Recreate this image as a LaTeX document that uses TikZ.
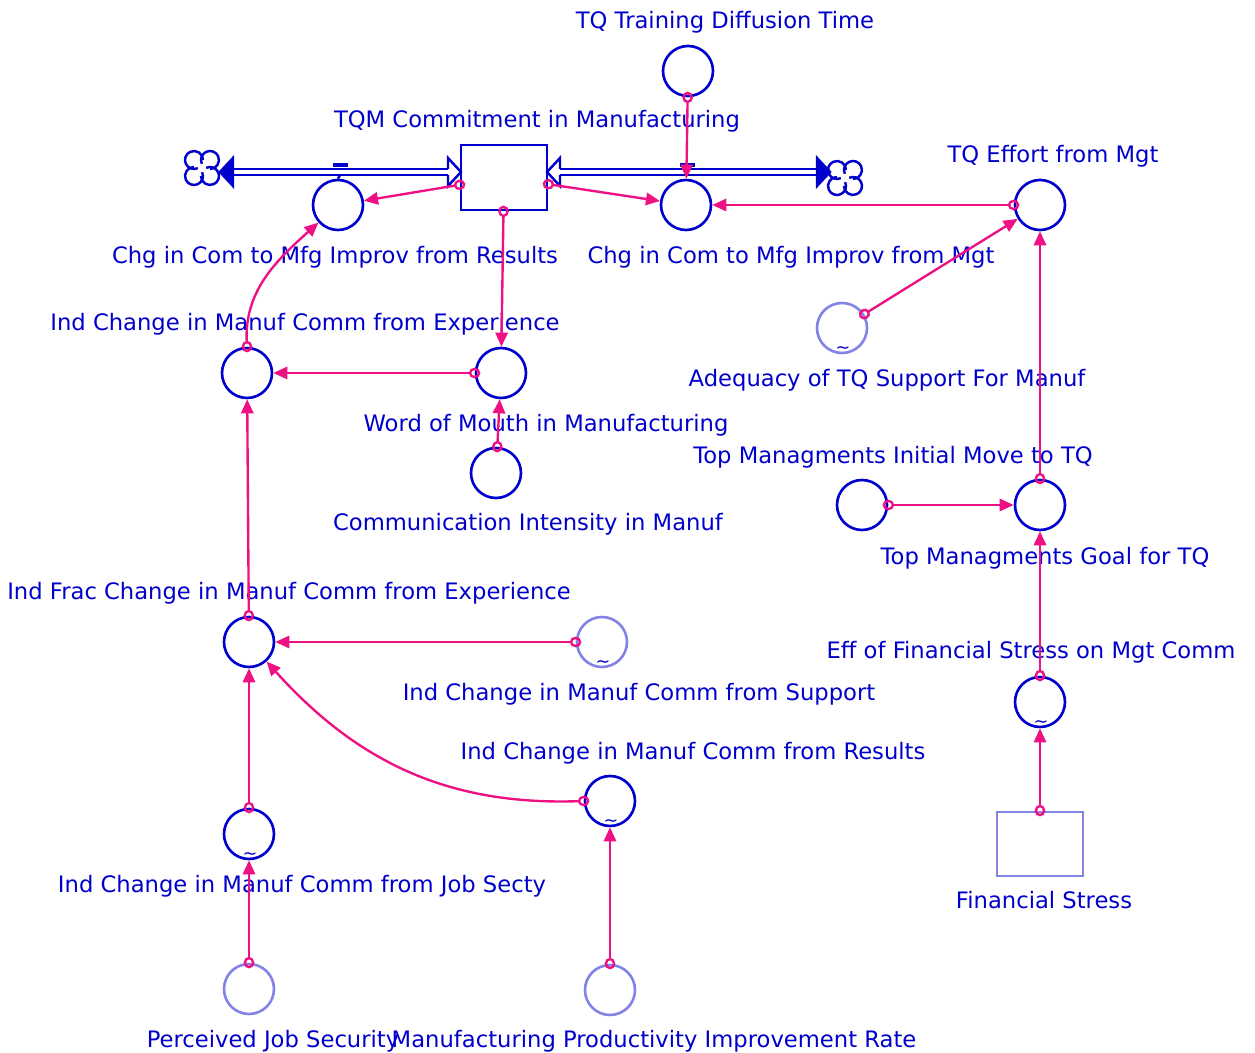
\documentclass[tikz,border=0pt]{standalone}
\usepackage{fontspec}
\setmainfont{DejaVu Sans}
\usetikzlibrary{arrows.meta}
\definecolor{VBlue}{HTML}{0000CC}
\definecolor{VLight}{HTML}{8484E6}
\definecolor{VPink}{HTML}{EE1184}

\begin{document}
\begin{tikzpicture}[x=0.02cm,y=0.02cm,
  var/.style={circle,draw=VBlue,line width=1.5pt,minimum size=1cm,inner sep=0pt},
  const/.style={var,draw=VLight},
  stockbox/.style={rectangle,draw=VBlue,line width=1.5pt,minimum width=1.72cm,minimum height=1.3cm,inner sep=0pt},
  lbl/.style={text=VBlue,font=\fontsize{12.9}{15}\selectfont,inner sep=0pt},
  tilde/.style={text=VBlue,font=\normalsize,inner sep=0pt},
  link/.style={VPink,line width=1.35pt,{Circle[open,length=6.5pt,width=6pt]}-{Triangle[length=8pt,width=7pt]},shorten <=-3.2pt},
  pipe/.style={VBlue,line width=1.4pt,line join=miter},
  sink/.pic={\foreach \a in {0,90,180,270}
      \draw[pipe,rotate=\a] (8,8) ++(205:9) arc[start angle=205,end angle=-90,radius=9];}]
  \useasboundingbox (0,0) rectangle (1255,-1053);

  % stock and flows
  \node[stockbox] (tqm) at (504,-177.5) {};
  \pic at (202,-168) {sink};
  \pic at (845,-178) {sink};
  \draw[pipe] (233,-169) -- (448,-169) (233,-175) -- (448,-175);
  \filldraw[pipe,fill=VBlue] (233,-158) -- (220,-172) -- (233,-186) -- cycle;
  \draw[pipe] (448,-169) -- (448,-158) -- (461,-172) -- (448,-186) -- (448,-175);
  \draw[pipe] (560,-169) -- (817,-169) (560,-175) -- (817,-175);
  \draw[pipe] (560,-169) -- (560,-158) -- (547,-172) -- (560,-186) -- (560,-175);
  \filldraw[pipe,fill=VBlue] (817,-158) -- (830,-172) -- (817,-186) -- cycle;

  % variables
  \node[var] (train) at (688,-71) {};
  \node[var] (chgres) at (338,-205) {};
  \node[var] (chgmgt) at (686,-205) {};
  \node[var] (effort) at (1040,-205) {};
  \node[const] (adeq) at (842,-328) {};
  \node[var] (iexp) at (247,-373) {};
  \node[var] (wom) at (501,-373) {};
  \node[var] (comm) at (496,-473) {};
  \node[var] (init) at (862,-505) {};
  \node[var] (goal) at (1040,-505) {};
  \node[var] (ifrac) at (249,-642) {};
  \node[const] (isup) at (602,-642) {};
  \node[var] (effin) at (1040,-702) {};
  \node[var] (ires) at (610,-801) {};
  \node[stockbox,draw=VLight,minimum height=1.28cm] (fin) at (1040,-844) {};
  \node[var] (ijob) at (249,-834) {};
  \node[const] (pjs) at (249,-989) {};
  \node[const] (mpir) at (610,-990) {};

  % valves
  \draw[pipe,line width=2pt] (333,-165) -- (348,-165);
  \draw[pipe] (340,-175) -- (chgres.north);
  \draw[pipe,line width=2pt] (680,-165) -- (695,-165);

  % lookup marks
  \node[tilde] (adeq-t) at (843,-350) {\textasciitilde};
  \node[tilde] (isup-t) at (603,-664) {\textasciitilde};
  \node[tilde] (effin-t) at (1041,-724) {\textasciitilde};
  \node[tilde] (ires-t) at (611,-823) {\textasciitilde};
  \node[tilde] (ijob-t) at (250,-856) {\textasciitilde};

  % labels
  \node[lbl] (l-train) at (725,-22) {TQ Training Diffusion Time};
  \node[lbl] (l-tqm) at (537,-121) {TQM Commitment in Manufacturing};
  \node[lbl] (l-effort) at (1053,-156) {TQ Effort from Mgt};
  \node[lbl] (l-chgres) at (335,-257) {Chg in Com to Mfg Improv from Results};
  \node[lbl] (l-chgmgt) at (791,-257) {Chg in Com to Mfg Improv from Mgt};
  \node[lbl] (l-iexp) at (305,-324) {Ind Change in Manuf Comm from Experience};
  \node[lbl] (l-adeq) at (887,-380) {Adequacy of TQ Support For Manuf};
  \node[lbl] (l-wom) at (546,-425) {Word of Mouth in Manufacturing};
  \node[lbl] (l-init) at (893,-457) {Top Managments Initial Move to TQ};
  \node[lbl] (l-comm) at (528,-524) {Communication Intensity in Manuf};
  \node[lbl] (l-goal) at (1045,-558) {Top Managments Goal for TQ};
  \node[lbl] (l-ifrac) at (289,-593) {Ind Frac Change in Manuf Comm from Experience};
  \node[lbl] (l-effin) at (1031,-652) {Eff of Financial Stress on Mgt Comm};
  \node[lbl] (l-isup) at (639,-694) {Ind Change in Manuf Comm from Support};
  \node[lbl] (l-ires) at (693,-753) {Ind Change in Manuf Comm from Results};
  \node[lbl] (l-ijob) at (302,-886) {Ind Change in Manuf Comm from Job Secty};
  \node[lbl] (l-fin) at (1044,-900) {Financial Stress};
  \node[lbl] (l-pjs) at (273,-1041) {Perceived Job Security};
  \node[lbl] (l-mpir) at (654,-1041) {Manufacturing Productivity Improvement Rate};

  % causal links
  \draw[link] (tqm) -- (chgres);
  \draw[link] (tqm) -- (chgmgt);
  \draw[link] (tqm) -- (wom);
  \draw[link] (train) -- (chgmgt);
  \draw[link] (effort) -- (chgmgt);
  \draw[link] (adeq) -- (effort);
  \draw[link] (goal) -- (effort);
  \draw[link] (init) -- (goal);
  \draw[link] (effin) -- (goal);
  \draw[link] (fin) -- (effin);
  \draw[link] (iexp.north) to[out=93,in=222] (chgres);
  \draw[link] (wom) -- (iexp);
  \draw[link] (comm) -- (wom);
  \draw[link] (ifrac) -- (iexp);
  \draw[link] (isup) -- (ifrac);
  \draw[link] (ires.west) to[out=182,in=-48] (ifrac);
  \draw[link] (ijob) -- (ifrac);
  \draw[link] (pjs) -- (ijob);
  \draw[link] (mpir) -- (ires);
\end{tikzpicture}
\end{document}
